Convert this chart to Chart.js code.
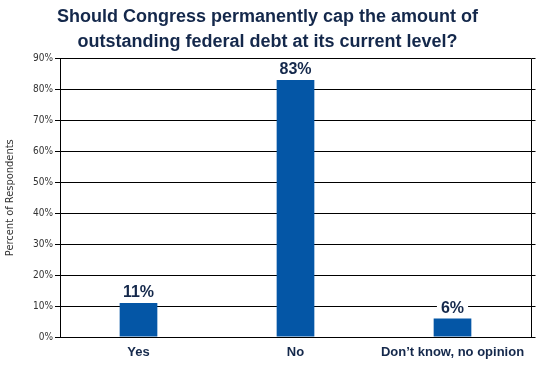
<!DOCTYPE html>
<html>
<head>
<meta charset="utf-8">
<script src="https://cdn.jsdelivr.net/npm/chart.js@4"></script>
<style>
  html, body { margin: 0; padding: 0; background: #fff; }
  #wrap { width: 539px; height: 365px; }
</style>
</head>
<body>
<div id="wrap"><canvas id="chart"></canvas></div>
<script>
const categories = ['Yes', 'No', 'Don\u2019t know, no opinion'];
const percents = [11, 83, 6];
const yTicks = [0, 10, 20, 30, 40, 50, 60, 70, 80, 90];

const navy = '#14284b';
const barBlue = '#0456a6';

// value labels above the bars, on a white patch that breaks the grid line
const valueLabels = {
    id: 'valueLabels',
    afterDatasetsDraw(chart) {
        const ctx = chart.ctx;
        const meta = chart.getDatasetMeta(0);
        ctx.save();
        ctx.font = 'bold 16px "Liberation Sans", Arial, sans-serif';
        ctx.textAlign = 'center';
        ctx.textBaseline = 'bottom';
        meta.data.forEach((bar, i) => {
            const text = percents[i] + '%';
            const w = ctx.measureText(text).width;
            ctx.fillStyle = '#fff';
            ctx.fillRect(bar.x - w / 2 - 4, bar.y - 20, w + 8, 18);
            ctx.fillStyle = navy;
            ctx.fillText(text, bar.x, bar.y - 2);
        });
        ctx.restore();
    }
};

// right border of the plot with small outward ticks
const rightFrame = {
    id: 'rightFrame',
    afterDraw(chart) {
        const ctx = chart.ctx;
        const area = chart.chartArea;
        const y = chart.scales.y;
        ctx.save();
        ctx.strokeStyle = '#000';
        ctx.lineWidth = 1;
        ctx.beginPath();
        const xr = Math.round(area.right) + 0.5;
        ctx.moveTo(xr, area.top);
        ctx.lineTo(xr, area.bottom);
        yTicks.forEach(t => {
            const py = Math.round(y.getPixelForValue(t)) + 0.5;
            ctx.moveTo(xr, py);
            ctx.lineTo(xr + 4, py);
        });
        ctx.stroke();
        ctx.restore();
    }
};

new Chart(document.getElementById('chart'), {
    type: 'bar',
    data: {
        labels: categories,
        datasets: [{
            data: percents,
            backgroundColor: barBlue,
            borderWidth: 0,
            barPercentage: 0.3,
            categoryPercentage: 0.8
        }]
    },
    options: {
        responsive: true,
        maintainAspectRatio: false,
        animation: false,
        layout: { padding: { left: 4, right: 8, top: 4, bottom: 2 } },
        plugins: {
            legend: { display: false },
            tooltip: { enabled: false },
            title: {
                display: true,
                text: ['Should Congress permanently cap the amount of', 'outstanding federal debt at its current level?'],
                color: navy,
                font: { family: '"Liberation Sans", Arial, sans-serif', size: 18, weight: 'bold', lineHeight: 1.4 },
                padding: { top: 0, bottom: 4 }
            }
        },
        scales: {
            x: {
                grid: { display: false },
                border: { color: '#000', width: 1 },
                afterFit(scale) { scale.height = 26; },
                ticks: {
                    color: navy,
                    font: { family: '"Liberation Sans", Arial, sans-serif', size: 13, weight: 'bold' },
                    padding: 0
                }
            },
            y: {
                min: 0,
                max: 90,
                afterBuildTicks(scale) {
                    scale.ticks = yTicks.map(v => ({ value: v }));
                },
                afterFit(scale) { scale.width = 56; },
                grid: { color: '#000', lineWidth: 1, tickLength: 5 },
                border: { color: '#000', width: 1 },
                ticks: {
                    color: '#333',
                    font: { family: '"DejaVu Sans Condensed", "DejaVu Sans", sans-serif', size: 10 },
                    padding: 2,
                    callback: v => v + '%'
                },
                title: {
                    display: true,
                    text: 'Percent of Respondents',
                    color: '#333',
                    font: { family: '"DejaVu Sans Condensed", "DejaVu Sans", sans-serif', size: 11 },
                    padding: { top: 0, bottom: 0 }
                }
            }
        }
    },
    plugins: [valueLabels, rightFrame]
});
</script>
</body>
</html>
